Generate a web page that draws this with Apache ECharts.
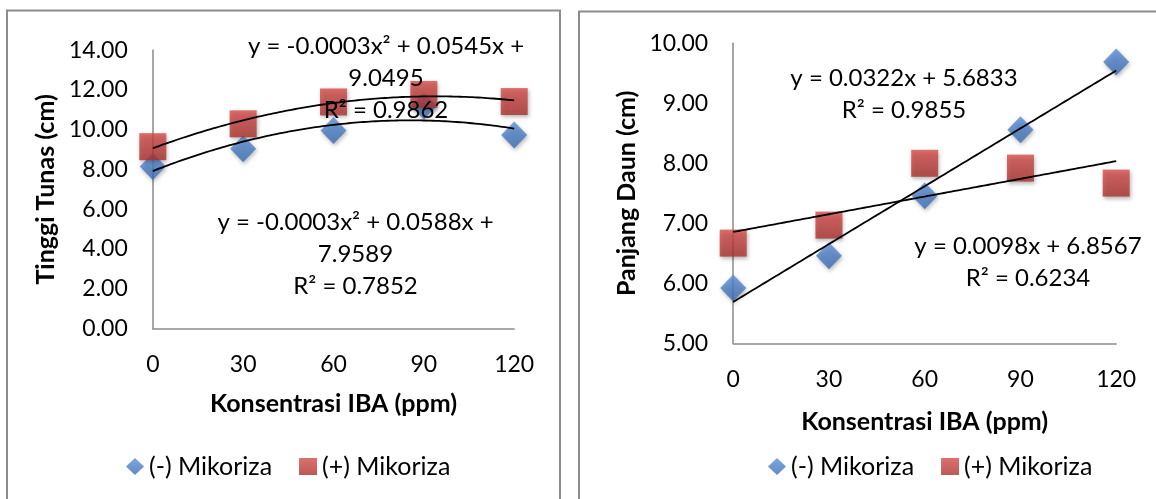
<!DOCTYPE html>
<html>
<head>
<meta charset="utf-8">
<script src="https://cdn.jsdelivr.net/npm/echarts@6/dist/echarts.min.js"></script>
<style>
html,body{margin:0;padding:0;background:#fff;}
#c{width:1156px;height:499px;}
</style>
</head>
<body>
<div id="c"></div>
<script>
// ---- data ----
const konsentrasi = [0, 30, 60, 90, 120];
const tinggiMinus = [8.15, 9.04, 9.97, 11.2, 9.74];
const tinggiPlus = [9.15, 10.3, 11.4, 11.78, 11.42];
const panjangMinus = [5.92, 6.46, 7.46, 8.56, 9.69];
const panjangPlus = [6.67, 6.97, 8.0, 7.92, 7.67];
const seriesNames = ['(-) Mikoriza', '(+) Mikoriza'];
const xTitle = 'Konsentrasi IBA (ppm)';
const yTitles = ['Tinggi Tunas (cm)', 'Panjang Daun (cm)'];
const eqLeftPlus = ['y = -0.0003x\u00b2 + 0.0545x +', '9.0495', 'R\u00b2 = 0.9862'];
const eqLeftMinus = ['y = -0.0003x\u00b2 + 0.0588x +', '7.9589', 'R\u00b2 = 0.7852'];
const eqRightMinus = ['y = 0.0322x + 5.6833', 'R\u00b2 = 0.9855'];
const eqRightPlus = ['y = 0.0098x + 6.8567', 'R\u00b2 = 0.6234'];

// ---- least-squares trendlines (as Excel draws them) ----
function solve3(A, b) {
  const M = A.map((r, i) => r.concat([b[i]]));
  for (let i = 0; i < 3; i++) {
    let p = i;
    for (let k = i + 1; k < 3; k++) if (Math.abs(M[k][i]) > Math.abs(M[p][i])) p = k;
    [M[i], M[p]] = [M[p], M[i]];
    for (let k = i + 1; k < 3; k++) {
      const f = M[k][i] / M[i][i];
      for (let j = i; j < 4; j++) M[k][j] -= f * M[i][j];
    }
  }
  const x = [0, 0, 0];
  for (let i = 2; i >= 0; i--) {
    let s = M[i][3];
    for (let j = i + 1; j < 3; j++) s -= M[i][j] * x[j];
    x[i] = s / M[i][i];
  }
  return x;
}
function polyFit2(xs, ys) {
  const S = k => xs.reduce((a, x) => a + Math.pow(x, k), 0);
  const T = k => xs.reduce((a, x, i) => a + Math.pow(x, k) * ys[i], 0);
  const A = [[S(0), S(1), S(2)], [S(1), S(2), S(3)], [S(2), S(3), S(4)]];
  return solve3(A, [T(0), T(1), T(2)]); // c, b, a
}
function linFit(xs, ys) {
  const n = xs.length;
  const mx = xs.reduce((a, b) => a + b, 0) / n;
  const my = ys.reduce((a, b) => a + b, 0) / n;
  let sxy = 0, sxx = 0;
  xs.forEach((x, i) => { sxy += (x - mx) * (ys[i] - my); sxx += (x - mx) * (x - mx); });
  const m = sxy / sxx;
  return [my - m * mx, m];
}
function curve(coef) {
  const pts = [];
  const x0 = konsentrasi[0], x1 = konsentrasi[konsentrasi.length - 1];
  for (let x = x0; x <= x1; x += 1) {
    let y = 0;
    coef.forEach((c, k) => { y += c * Math.pow(x, k); });
    pts.push([x, y]);
  }
  return pts;
}
const pairs = ys => konsentrasi.map((x, i) => [x, ys[i]]);

// ---- styles ----
const FONT = 'Lato, "Open Sans", sans-serif';
const blue = {type: 'linear', x: 0, y: 0, x2: 0, y2: 1,
  colorStops: [{offset: 0, color: '#5b90d8'}, {offset: 1, color: '#3a6cb3'}]};
const red = {type: 'linear', x: 0, y: 0, x2: 0, y2: 1,
  colorStops: [{offset: 0, color: '#d64d4a'}, {offset: 1, color: '#a9302d'}]};
const shadow = {shadowBlur: 4, shadowColor: 'rgba(0,0,0,0.35)', shadowOffsetY: 2, shadowOffsetX: 1};
const axisLine = {show: true, onZero: false, lineStyle: {color: '#8a8a8a', width: 1.5}};
const tickLabel = {color: '#000', fontSize: 23, fontFamily: FONT, margin: 25};
const titleStyle = {color: '#000', fontSize: 25, fontWeight: 'bold', fontFamily: FONT};

function xAxis(gi) {
  return {type: 'value', gridIndex: gi, min: 0, max: 120, interval: 30,
    axisLine, axisTick: {show: false}, splitLine: {show: false},
    axisLabel: tickLabel,
    name: xTitle, nameLocation: 'middle', nameGap: gi === 0 ? 63 : 66,
    nameTextStyle: titleStyle};
}
function yAxis(gi, min, max, interval) {
  return {type: 'value', gridIndex: gi, min, max, interval,
    axisLine, axisTick: {show: false}, splitLine: {show: false},
    axisLabel: Object.assign({}, tickLabel, {formatter: v => v.toFixed(2)}),
    name: yTitles[gi], nameLocation: 'middle', nameGap: 94,
    nameTextStyle: titleStyle};
}
function scatter(name, gi, ys, isPlus) {
  return {name, type: 'scatter', xAxisIndex: gi, yAxisIndex: gi, data: pairs(ys),
    symbol: isPlus ? 'rect' : 'diamond', symbolSize: isPlus ? 27 : [26, 27],
    itemStyle: Object.assign({color: isPlus ? red : blue}, shadow), z: isPlus ? 3 : 2,
    silent: true};
}
function trend(gi, pts) {
  return {type: 'line', xAxisIndex: gi, yAxisIndex: gi, data: pts, showSymbol: false,
    symbol: 'none', lineStyle: {color: '#000', width: 1.8}, z: 5, silent: true};
}
function label(lines, x, y, lh) {
  return {type: 'text', x, y, z: 10, silent: true,
    style: {text: lines.join('\n'), fill: '#000', fontSize: 24, fontFamily: FONT,
      align: 'center', verticalAlign: 'middle', lineHeight: lh}};
}
function legend(left) {
  return {data: seriesNames, left, top: 454, padding: 0, itemWidth: 18, itemHeight: 17,
    itemGap: 27, textStyle: {color: '#000', fontSize: 25, fontFamily: FONT}, selectedMode: false};
}

const option = {
  animation: false,
  backgroundColor: '#fff',
  grid: [
    {left: 152.8, top: 50.3, width: 361.4, height: 278.2},
    {left: 733.2, top: 43.3, width: 383, height: 300}
  ],
  xAxis: [xAxis(0), xAxis(1)],
  yAxis: [yAxis(0, 0, 14, 2), yAxis(1, 5, 10, 1)],
  legend: [legend(126), legend(768)],
  graphic: [
    {type: 'rect', shape: {x: 7, y: 10.5, width: 553, height: 520}, z: -1, silent: true,
      style: {fill: 'none', stroke: '#8c8c8c', lineWidth: 2}},
    {type: 'rect', shape: {x: 579, y: 11.5, width: 620, height: 520}, z: -1, silent: true,
      style: {fill: 'none', stroke: '#8c8c8c', lineWidth: 2}},
    label(eqLeftPlus, 386, 78.3, 31.7),
    label(eqLeftMinus, 355.5, 254, 32.2),
    label(eqRightMinus, 904, 94.2, 31.7),
    label(eqRightPlus, 1028, 262.5, 31.7)
  ],
  series: [
    scatter(seriesNames[0], 0, tinggiMinus, false),
    scatter(seriesNames[1], 0, tinggiPlus, true),
    trend(0, curve(polyFit2(konsentrasi, tinggiMinus))),
    trend(0, curve(polyFit2(konsentrasi, tinggiPlus))),
    scatter(seriesNames[0], 1, panjangMinus, false),
    scatter(seriesNames[1], 1, panjangPlus, true),
    trend(1, curve(linFit(konsentrasi, panjangMinus))),
    trend(1, curve(linFit(konsentrasi, panjangPlus)))
  ]
};
const chart = echarts.init(document.getElementById('c'), null, {renderer: 'canvas'});
chart.setOption(option);
</script>
</body>
</html>
